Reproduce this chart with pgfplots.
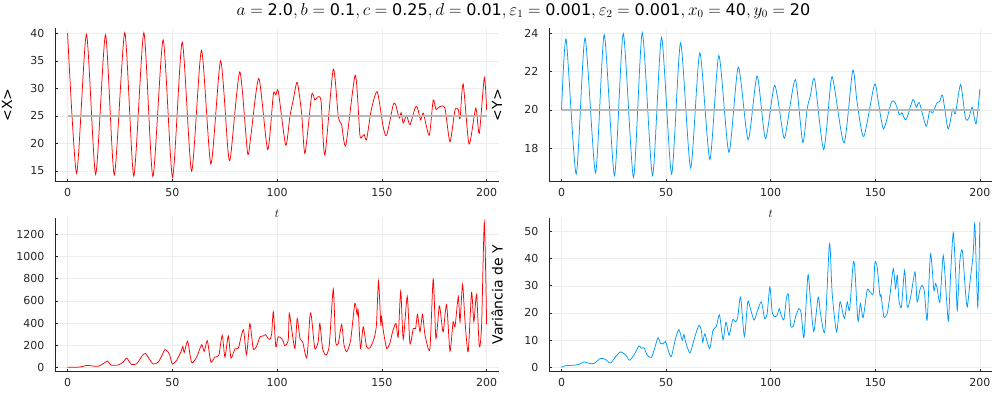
\documentclass[border=0pt]{standalone}
\usepackage{fontspec}
\setmainfont{DejaVu Sans}
\usepackage{pgfplots}
\pgfplotsset{compat=1.18}
\definecolor{jred}{RGB}{255,0,0}
\definecolor{jblue}{RGB}{0,154,250}
\pgfplotsset{
  jstyle/.style={
    scale only axis,
    xmin=-6, xmax=206,
    xtick={0,50,100,150,200},
    axis x line*=bottom, axis y line*=left,
    axis line style={-, black!85, line width=0.8pt},
    tick align=inside, major tick length=3pt,
    tick style={black!85, line width=0.6pt},
    grid=major, grid style={black!7, line width=0.5pt},
    /pgf/number format/assume math mode=true,
    /pgf/number format/1000 sep={},
    ticklabel style={font=\fontsize{11}{13}\selectfont, text=black!85},
    yticklabel style={xshift=-7pt},
    xticklabel style={yshift=-3.5pt},
    ylabel style={font=\fontsize{14}{16}\selectfont},
    xlabel style={font=\fontsize{12}{14}\selectfont},
    clip=true,
  },
  jline/.style={line width=0.75pt, smooth, tension=0.4, no marks},
  hline/.style={black!28, line width=1.4pt, no marks},
}
\begin{document}
\begin{tikzpicture}
\useasboundingbox (0,0) rectangle (1000pt,400pt);
\node[font=\fontsize{16}{18}\selectfont] at (523.5pt,389pt)
 {$a = \mbox{2.0}, b = \mbox{0.1}, c = \mbox{0.25}, d = \mbox{0.01}, \varepsilon_1 = \mbox{0.001}, \varepsilon_2 = \mbox{0.001}, x_0 = \mbox{40}, y_0 = \mbox{20}$};
% ---------- top left: <X>
\begin{axis}[jstyle, at={(55pt,218.3pt)}, anchor=south west,
  width=444.2pt, height=153.4pt,
  ymin=13.07, ymax=40.9, ytick={15,20,25,30,35,40},
  ylabel={\textless X\textgreater},
  ylabel style={at={(axis description cs:-0.108,0.5)}, anchor=center},
  xlabel={$t$},
  xlabel style={at={(axis description cs:0.5,-0.21)}, anchor=center}]
\addplot[jline, jred] coordinates {
(0,40) (4.3,14.6) (9.0,39.8) (13.4,14.4) (18.1,39.7) (22.3,14.3) (27.3,40.1)
(31.6,14.1) (36.4,40.1) (40.7,14.0) (45.6,38.8) (50.1,13.9) (54.7,38.4)
(59.2,15.0) (63.9,36.9) (68.4,16.3) (73.0,35.0) (76.5,19.0) (77.8,17.6)
(82.2,33.0) (85.9,18.3) (87.5,21.5) (91.3,31.8) (95.5,18.9) (98.2,28.9)
(99.4,28.8) (100.6,29.4) (104.1,19.7) (106.1,24.9) (107.7,27.9) (109.6,31.1)
(111.7,25.5) (113.3,18.2) (116.5,28.8) (118.0,27.9) (119.6,28.5) (121.0,27.6)
(122.8,17.9) (126.8,33.5) (129.2,24.9) (130.8,23.4) (132.8,19.7) (137.3,32.4)
(139.5,21.6) (140.6,21.3) (141.6,21.6) (142.7,20.7) (145.0,26.2) (147.8,29.4)
(150.6,23.05) (152.3,21.5) (155.4,27.0) (156.6,27.0) (158.3,24.6) (159.2,25.6)
(160.2,23.7) (161.8,25.1) (163.4,23.4) (165.8,26.4) (166.9,26.6) (168.5,24.3)
(169.8,25.5) (172.6,21.5) (174.5,27.9) (175.8,26.2) (177.7,26.7) (180.1,26.4)
(182.5,20.3) (184.9,26.1) (186.5,26.1) (187.3,24.5) (188.8,30.8) (191.6,19.9)
(194.8,26.4) (196.5,21.85) (198.9,32.0) (200,26.1)
};
\addplot[hline] coordinates {(0,25) (200,25)};
\end{axis}
% ---------- top right: <Y>
\begin{axis}[jstyle, at={(549pt,218.3pt)}, anchor=south west,
  width=443.4pt, height=153.4pt,
  ymin=16.24, ymax=24.27, ytick={18,20,22,24},
  ylabel={\textless Y\textgreater},
  ylabel style={at={(axis description cs:-0.117,0.5)}, anchor=center},
  xlabel={$t$},
  xlabel style={at={(axis description cs:0.5,-0.21)}, anchor=center}]
\addplot[jline, jblue] coordinates {
(0,20) (2.2,23.69) (7.0,16.64) (11.2,23.76) (16.25,16.7) (20.4,23.93)
(25.3,16.56) (29.5,23.99) (34.4,16.47) (38.6,24.04) (43.5,16.56) (47.8,23.79)
(52.6,16.64) (56.9,23.51) (61.7,16.96) (66.1,22.99) (70.9,17.4) (75.2,22.85)
(80.0,17.78) (84.5,22.24) (89.2,18.44) (93.5,21.77) (97.5,18.5) (101.9,21.28)
(106.2,18.57) (107.8,19.18) (111.8,21.59) (115.3,18.3) (117.4,20.05) (119.0,20.75)
(121.0,21.59) (125.3,17.92) (128.8,21.5) (130.1,21.42) (135.1,18.27) (139.2,22.06)
(141.3,20.4) (144.5,18.6) (149.6,21.33) (151.6,20.31) (154.0,19.0) (157.7,20.4)
(159.6,20.35) (161.5,19.74) (162.7,19.85) (164.7,19.48) (168.0,20.54) (169.6,20.14)
(171.1,20.37) (174.3,19.14) (176.0,19.97) (177.4,19.84) (179.5,20.37) (180.8,20.44)
(182.2,20.75) (184.8,19.0) (187.0,20.05) (188.3,19.8) (190.8,21.33) (193.1,19.56)
(194.7,19.56) (196.3,20.14) (198.2,19.27) (200,21.1)
};
\addplot[hline] coordinates {(0,20) (200,20)};
\end{axis}
% ---------- bottom left: Var X
\begin{axis}[jstyle, at={(55pt,28.3pt)}, anchor=south west,
  width=444.2pt, height=153.9pt,
  ymin=-39, ymax=1349, ytick={0,200,400,600,800,1000,1200}]
\addplot[jline, jred] coordinates {
(0,0) (5.9,3) (9.1,18) (11.5,14) (14.6,10) (17.0,33) (19.1,57) (20.7,20)
(24.2,22) (26.6,48) (28.2,84) (30.5,27) (33.0,33) (35.6,105) (37.2,126)
(38.8,80) (40.9,30) (43.3,48) (45.2,114) (46.5,162) (48.0,138) (48.8,110)
(50.0,30) (52.0,63) (54.1,140) (55.0,188) (55.7,135) (57.3,235) (59.2,45)
(61.6,93) (64.0,205) (65.2,144) (66.7,240) (68.4,48) (70.3,93) (72.2,110)
(73.8,290) (75.1,93) (76.7,283) (78.0,84) (79.9,168) (81.5,174) (83.9,340)
(85.4,114) (87.0,394) (88.6,168) (90.2,190) (91.8,274) (93.4,283) (94.5,295)
(95.8,259) (96.6,253) (97.4,300) (98.2,502) (99.4,186) (100.5,276) (102.1,261)
(102.9,237) (103.7,195) (105.3,246) (105.8,487) (106.9,351) (108.5,171)
(109.6,441) (110.9,261) (112.2,231) (114.2,87) (115.7,471) (116.4,456)
(118.0,171) (119.6,231) (120.4,396) (121.7,171) (123.3,111) (124.9,201)
(126.8,706) (127.9,237) (129.2,216) (130.8,387) (131.9,207) (133.2,141)
(135.1,246) (137.1,577) (138.2,472) (138.7,517) (139.8,171) (141.1,366)
(142.7,186) (144.3,177) (146.2,255) (147.4,381) (148.4,778) (149.5,381)
(149.8,457) (150.9,306) (152.3,171) (153.8,216) (155.1,321) (156.7,396)
(157.8,276) (159.0,688) (160.2,255) (162.1,640) (163.4,216) (165.0,351)
(166.1,351) (167.0,478) (168.2,321) (169.4,478) (170.6,291) (172.9,165)
(174.5,796) (175.8,261) (177.4,555) (178.5,411) (179.3,321) (180.9,567)
(182.5,147) (184.0,411) (184.9,366) (186.5,640) (187.3,411) (188.5,748)
(189.7,411) (191.2,141) (192.8,676) (193.9,411) (195.2,658) (196.5,186)
(197.6,381) (198.9,1308) (200,387)
};
\end{axis}
% ---------- bottom right: Var Y
\begin{axis}[jstyle, at={(549pt,28.3pt)}, anchor=south west,
  width=443.4pt, height=153.9pt,
  ymin=-1.6, ymax=55, ytick={0,10,20,30,40,50},
  ylabel={Variância de Y},
  ylabel style={at={(axis description cs:-0.117,0.5)}, anchor=center}]
\addplot[jline, jblue] coordinates {
(0,0) (1.9,0.6) (5.9,0.8) (8.3,1.1) (10.7,2.0) (13.1,1.5) (15.5,1.4) (18.6,3.3)
(21.0,2.9) (23.4,1.6) (25.8,3.9) (28.2,5.7) (30.6,4.6) (32.5,2.6) (34.6,4.5)
(37.0,7.9) (38.2,7.0) (39.4,7.2) (41.0,4.5) (42.9,3.6) (44.5,7.0) (46.1,10.9)
(47.3,8.8) (48.4,8.6) (49.7,9.5) (50.5,7.6) (52.4,3.9) (54.5,10.6) (56.1,13.9)
(57.7,10.0) (58.5,12.1) (59.3,9.4) (61.4,5.3) (63.7,11.2) (65.7,15.5)
(66.8,13.7) (67.5,9.2) (68.5,12.3) (70.8,6.9) (72.4,13.7) (74.0,15.0)
(75.5,19.3) (77.2,10.2) (78.6,16.6) (80.1,11.8) (81.8,17.5) (83.2,16.8)
(84.2,18.2) (85.6,25.9) (87.4,11.3) (89.0,24.0) (90.0,22.5) (92.0,17.4)
(93.5,20.4) (95.5,24.1) (97.1,18.0) (98.3,19.8) (99.6,29.6) (100.7,20.4)
(101.8,18.6) (103.1,19.2) (104.1,21.6) (105.0,19.2) (106.3,17.6) (107.6,25.9)
(108.5,26.5) (109.5,15.5) (110.8,15.2) (111.9,18.6) (113.5,21.6) (114.6,19.8)
(115.9,11.0) (117.8,33.9) (119.0,24.7) (120.6,13.1) (122.7,25.9) (123.8,19.8)
(125.9,13.4) (128.1,45.5) (129.4,27.1) (131.5,13.0) (133.1,24.1) (134.2,21.0)
(135.3,18.0) (136.6,24.1) (137.7,21.0) (139.4,38.1) (140.2,36.5) (141.7,17.1)
(142.9,23.5) (144.2,18.3) (146.1,28.4) (147.4,27.8) (149.0,27.1) (149.8,38.4)
(150.9,36.9) (152.2,26.5) (152.8,26.5) (154.1,18.6) (155.7,19.8) (157.0,26.5)
(158.6,36.3) (159.7,29.0) (160.5,33.9) (161.3,24.7) (162.5,22.2) (164.0,35.7)
(165.3,22.2) (166.9,25.9) (169.0,35.1) (170.0,24.1) (171.3,28.4) (172.4,30.2)
(173.5,27.7) (174.8,17.4) (176.4,41.8) (178.0,28.4) (178.8,30.8) (179.6,29.0)
(180.9,24.1) (182.5,41.2) (184.1,24.7) (185.0,17.1) (186.1,35.7) (187.3,49.5)
(188.5,33.5) (189.2,21.0) (190.4,38.8) (191.6,43.0) (193.2,27.1) (194.0,22.2)
(195.2,30.8) (196.8,41.8) (197.6,52.6) (199.0,22.2) (200,53.4)
};
\end{axis}
\end{tikzpicture}
\end{document}
